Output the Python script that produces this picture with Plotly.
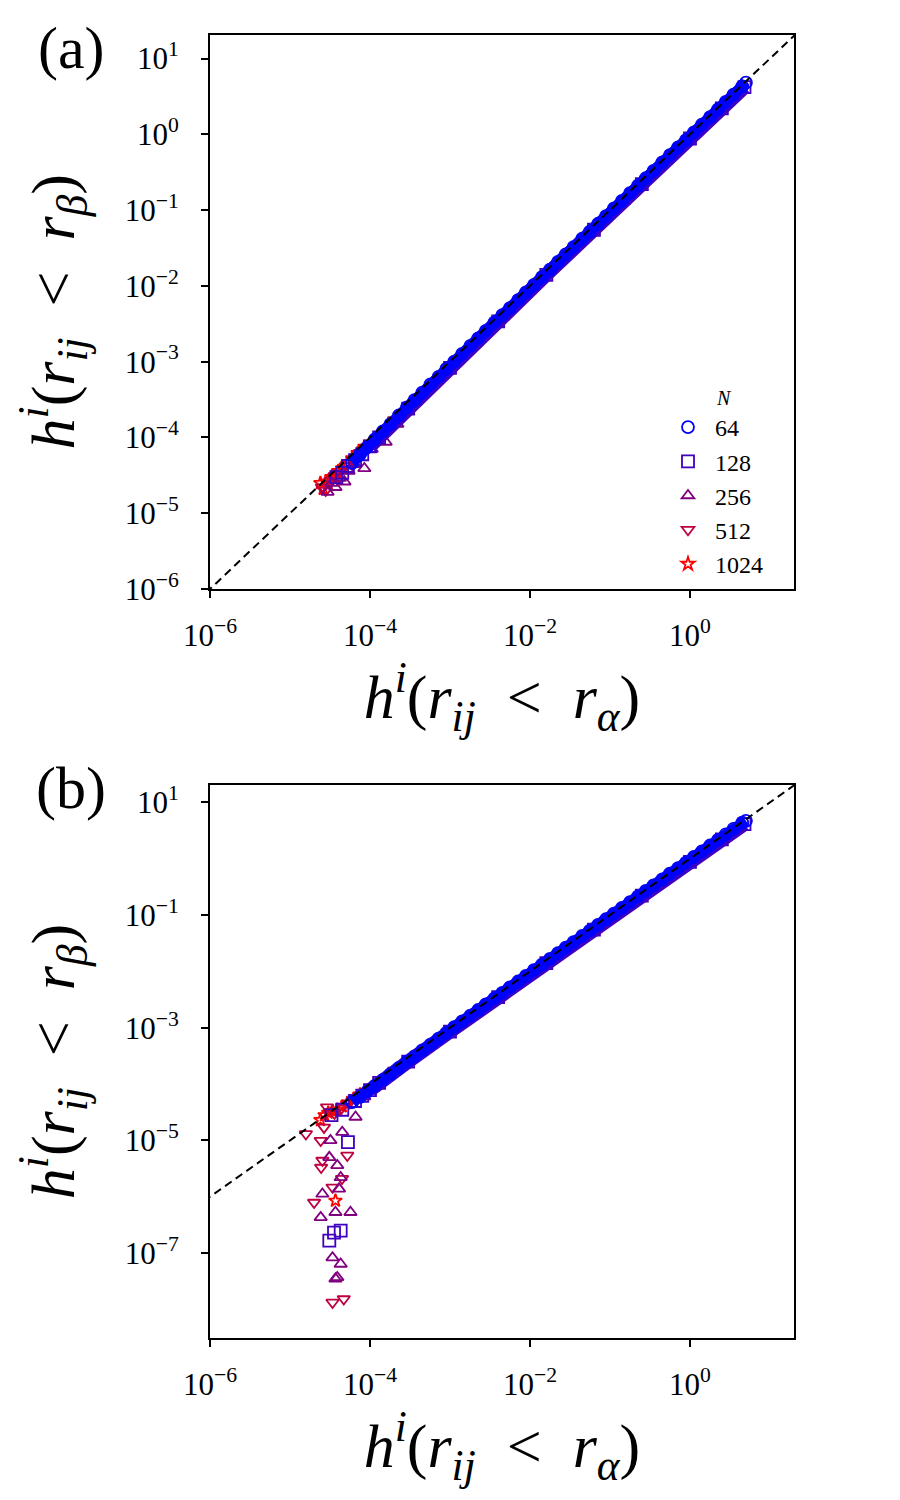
import plotly.graph_objects as go

# ---------------- data ----------------
N_labels = ["64", "128", "256", "512", "1024"]
colors = ["#0000FF", "#4000BF", "#800080", "#BF0040", "#FF0000"]
symbols = ["circle-open", "square-open", "triangle-up-open", "triangle-down-open", "star-open"]
marker_sizes = [12, 12, 11, 11, 10]

# dense diagonal band (mostly N = 64, drawn on top)
x_band = [6.0e-5, 7.5e-5, 9.2e-5, 1.15e-4, 1.45e-4, 1.8e-4, 2.3e-4, 2.9e-4, 3.6e-4, 4.5e-4,
          5.7e-4, 7.2e-4, 9.0e-4, 1.13e-3, 1.42e-3, 1.8e-3, 2.25e-3, 2.8e-3, 3.6e-3, 4.5e-3,
          5.6e-3, 7.1e-3, 8.9e-3, 1.12e-2, 1.41e-2, 1.78e-2, 2.24e-2, 2.8e-2, 3.5e-2, 4.5e-2,
          5.6e-2, 7.1e-2, 8.9e-2, 0.112, 0.141, 0.178, 0.224, 0.28, 0.35, 0.45,
          0.56, 0.71, 0.89, 1.12, 1.41, 1.78, 2.24, 2.8, 3.5, 4.5, 5.0]
ya_band = [4.6e-5, 6.0e-5, 7.4e-5, 9.4e-5, 1.2e-4, 1.5e-4, 1.95e-4, 2.5e-4, 3.1e-4, 3.9e-4,
           5.0e-4, 6.3e-4, 8.0e-4, 1.0e-3, 1.27e-3, 1.62e-3, 2.03e-3, 2.55e-3, 3.3e-3, 4.1e-3,
           5.1e-3, 6.5e-3, 8.2e-3, 1.03e-2, 1.3e-2, 1.64e-2, 2.07e-2, 2.6e-2, 3.25e-2, 4.2e-2,
           5.2e-2, 6.6e-2, 8.3e-2, 0.105, 0.132, 0.167, 0.21, 0.263, 0.33, 0.425,
           0.53, 0.67, 0.84, 1.06, 1.34, 1.69, 2.13, 2.67, 3.34, 4.3, 4.8]
yb_band = [4.8e-5, 5.9e-5, 7.3e-5, 9.3e-5, 1.19e-4, 1.5e-4, 1.94e-4, 2.5e-4, 3.1e-4, 3.95e-4,
           5.0e-4, 6.4e-4, 8.1e-4, 1.02e-3, 1.29e-3, 1.64e-3, 2.06e-3, 2.58e-3, 3.3e-3, 4.15e-3,
           5.2e-3, 6.6e-3, 8.3e-3, 1.05e-2, 1.32e-2, 1.67e-2, 2.1e-2, 2.64e-2, 3.3e-2, 4.25e-2,
           5.3e-2, 6.7e-2, 8.4e-2, 0.106, 0.134, 0.169, 0.213, 0.267, 0.335, 0.43,
           0.54, 0.68, 0.85, 1.07, 1.35, 1.71, 2.15, 2.7, 3.38, 4.35, 4.7]

# panel (a): per-N points
xa_128 = [3.8e-5, 4.5e-5, 5.3e-5, 6.5e-5, 8.0e-5, 1.0e-4, 1.3e-4, 3.0e-4, 1.0e-3, 4.0e-3, 1.6e-2, 6.3e-2, 0.25, 1.0, 2.5, 4.8]
ya_128 = [3.0e-5, 3.4e-5, 4.2e-5, 5.0e-5, 6.0e-5, 7.6e-5, 1.0e-4, 2.4e-4, 8.3e-4, 3.4e-3, 1.4e-2, 5.5e-2, 0.22, 0.88, 2.2, 4.2]
xa_256 = [2.95e-5, 3.3e-5, 3.7e-5, 4.2e-5, 4.8e-5, 5.4e-5, 6.5e-5, 8.5e-5, 1.05e-4, 1.57e-4, 2.2e-4, 6.0e-4, 3.0e-3, 2.0e-2, 0.15, 1.2]
ya_256 = [1.9e-5, 2.5e-5, 2.2e-5, 2.9e-5, 2.6e-5, 3.6e-5, 4.4e-5, 3.9e-5, 7.0e-5, 8.7e-5, 1.5e-4, 4.9e-4, 2.6e-3, 1.8e-2, 0.13, 1.05]
xa_512 = [2.5e-5, 2.8e-5, 3.2e-5, 3.6e-5, 4.2e-5, 5.0e-5, 6.0e-5, 7.5e-5, 9.0e-5, 2.0e-4, 1.5e-3, 1.2e-2, 0.1, 0.9]
ya_512 = [2.2e-5, 2.0e-5, 2.7e-5, 3.1e-5, 3.4e-5, 4.2e-5, 5.0e-5, 6.3e-5, 7.4e-5, 1.7e-4, 1.3e-3, 1.05e-2, 0.09, 0.8]
xa_1024 = [2.4e-5, 2.6e-5, 2.8e-5, 3.0e-5, 3.3e-5, 3.6e-5, 4.0e-5, 4.5e-5, 5.2e-5, 6.0e-5, 7.0e-5, 8.5e-5, 3.0e-4, 2.5e-3, 2.0e-2, 0.2]
ya_1024 = [2.5e-5, 2.1e-5, 2.6e-5, 2.4e-5, 3.0e-5, 2.9e-5, 3.6e-5, 3.9e-5, 4.5e-5, 5.3e-5, 6.2e-5, 7.5e-5, 2.6e-4, 2.2e-3, 1.8e-2, 0.18]

# panel (b): per-N points (including the low tail)
xb_128 = [3.3e-5, 5.3e-5, 4.3e-5, 3.55e-5, 3.1e-5, 4.5e-5, 6.5e-5, 8.0e-5, 1.0e-4, 1.3e-4, 3.0e-4, 1.0e-3, 4.0e-3, 1.6e-2, 6.3e-2, 0.25, 1.0, 2.5, 4.8]
yb_128 = [2.8e-5, 9.3e-6, 2.5e-7, 2.3e-7, 1.66e-7, 3.5e-5, 5.0e-5, 6.2e-5, 7.8e-5, 1.05e-4, 2.5e-4, 8.5e-4, 3.5e-3, 1.4e-2, 5.5e-2, 0.22, 0.88, 2.2, 4.1]
xb_256 = [3.2e-5, 4.5e-5, 3.1e-5, 3.9e-5, 4.3e-5, 2.54e-5, 4.1e-5, 3.7e-5, 5.7e-5, 2.42e-5, 3.4e-5, 4.3e-5, 3.9e-5, 3.7e-5, 6.6e-5, 8.5e-5, 1.1e-4, 1.6e-4, 6.0e-4, 3.0e-3, 2.0e-2, 0.15, 1.2]
yb_256 = [1.0e-5, 1.4e-5, 5.0e-6, 3.6e-6, 2.2e-6, 1.12e-6, 1.38e-6, 5.3e-7, 5.3e-7, 4.3e-7, 8.3e-8, 6.4e-8, 3.7e-8, 3.5e-8, 2.6e-5, 6.0e-5, 8.5e-5, 1.3e-4, 5.0e-4, 2.6e-3, 1.8e-2, 0.13, 1.05]
xb_512 = [1.58e-5, 2.42e-5, 2.54e-5, 2.45e-5, 2.0e-5, 3.4e-5, 5.2e-5, 4.47e-5, 3.4e-5, 4.7e-5, 2.66e-5, 2.9e-5, 3.6e-5, 4.4e-5, 5.5e-5, 7.5e-5, 2.0e-4, 1.5e-3, 1.2e-2, 0.1, 0.9]
yb_512 = [1.3e-5, 9.9e-6, 4.4e-6, 3.3e-6, 7.9e-7, 1.47e-6, 5.4e-6, 2.1e-6, 1.33e-8, 1.53e-8, 1.7e-5, 3.9e-5, 3.0e-5, 3.7e-5, 4.6e-5, 6.2e-5, 1.75e-4, 1.35e-3, 1.1e-2, 0.09, 0.8]
xb_1024 = [3.7e-5, 2.4e-5, 2.7e-5, 3.0e-5, 3.4e-5, 3.9e-5, 4.5e-5, 5.2e-5, 6.2e-5, 7.5e-5, 3.0e-4, 2.5e-3, 2.0e-2, 0.2]
yb_1024 = [8.5e-7, 2.3e-5, 2.8e-5, 3.1e-5, 3.3e-5, 3.5e-5, 4.0e-5, 4.6e-5, 5.4e-5, 6.5e-5, 2.6e-4, 2.2e-3, 1.8e-2, 0.18]

diag = [1e-9, 1e2]

x_tickvals = [1e-6, 1e-4, 1e-2, 1e0]
x_ticktext = ["10<sup>−6</sup>", "10<sup>−4</sup>", "10<sup>−2</sup>", "10<sup>0</sup>"]
ya_tickvals = [1e1, 1e0, 1e-1, 1e-2, 1e-3, 1e-4, 1e-5, 1e-6]
ya_ticktext = ["10<sup>1</sup>", "10<sup>0</sup>", "10<sup>−1</sup>", "10<sup>−2</sup>",
               "10<sup>−3</sup>", "10<sup>−4</sup>", "10<sup>−5</sup>", "10<sup>−6</sup>"]
yb_tickvals = [1e1, 1e-1, 1e-3, 1e-5, 1e-7]
yb_ticktext = ["10<sup>1</sup>", "10<sup>−1</sup>", "10<sup>−3</sup>", "10<sup>−5</sup>", "10<sup>−7</sup>"]

# ---------------- figure ----------------
FONT = "Liberation Serif"
fig = go.Figure()

panel_a = {
    "64": (x_band, ya_band), "128": (xa_128, ya_128), "256": (xa_256, ya_256),
    "512": (xa_512, ya_512), "1024": (xa_1024, ya_1024),
}
panel_b = {
    "64": (x_band, yb_band), "128": (xb_128, yb_128), "256": (xb_256, yb_256),
    "512": (xb_512, yb_512), "1024": (xb_1024, yb_1024),
}

order = [4, 3, 2, 1, 0]  # largest N drawn first, N=64 on top
for panel, (xa, ya), show in [(panel_a, ("x", "y"), True), (panel_b, ("x2", "y2"), False)]:
    for k in order:
        lab = N_labels[k]
        xs, ys = panel[lab]
        if lab in ("64", "128"):
            # the dense overlapping markers merge into a solid band
            keep = [i for i, v in enumerate(xs) if lab == "64" or v >= 1.0e-4]
            fig.add_trace(go.Scatter(
                x=[xs[i] for i in keep], y=[ys[i] for i in keep], mode="lines",
                xaxis=xa, yaxis=ya, showlegend=False, legendgroup=lab, hoverinfo="skip",
                line=dict(color=colors[k], width=14 if lab == "128" else 11),
            ))
        fig.add_trace(go.Scatter(
            x=xs, y=ys, mode="markers", name=lab, legendgroup=lab, showlegend=show,
            xaxis=xa, yaxis=ya,
            marker=dict(symbol=symbols[k], size=marker_sizes[k], color=colors[k],
                        line=dict(width=1.8, color=colors[k])),
        ))
    fig.add_trace(go.Scatter(x=diag, y=diag, mode="lines", xaxis=xa, yaxis=ya, showlegend=False,
                             line=dict(color="black", width=2, dash="8px,5px"), hoverinfo="skip"))

title_y = ("<i>h</i><sup><i>i</i></sup>(<i>r</i><sub><i>ij</i></sub>\u2002&lt;\u2002"
           "<i>r</i><sub><i>β</i></sub>)")
title_x = ("<i>h</i><sup><i>i</i></sup>(<i>r</i><sub><i>ij</i></sub>\u2002&lt;\u2002"
           "<i>r</i><sub><i>α</i></sub>)")
TITLE_FONT = dict(family=FONT, size=62, color="black")

axis_common = dict(type="log", showgrid=False, zeroline=False, showline=True, linecolor="black",
                   linewidth=2, mirror=True, ticks="outside", ticklen=7, tickwidth=2,
                   tickcolor="black", automargin=False,
                   tickfont=dict(family=FONT, size=31, color="black"))

# the page adds an 8px body margin, so pixel positions below are offset by -8
xdom = [202 / 900, 786 / 900]
fig.update_layout(
    width=900, height=1500, margin=dict(l=0, r=0, t=0, b=0, autoexpand=False),
    paper_bgcolor="white", plot_bgcolor="white",
    xaxis=dict(axis_common, domain=xdom, range=[-6, 1.3], tickvals=x_tickvals, ticktext=x_ticktext,
               anchor="y", ticklabelstandoff=11,
               title=dict(text=title_x, font=TITLE_FONT, standoff=20)),
    yaxis=dict(axis_common, domain=[1 - 581 / 1500, 1 - 26.5 / 1500], range=[-6, 1.317],
               tickvals=ya_tickvals, ticktext=ya_ticktext, anchor="x", ticklabelstandoff=16,
               title=dict(text=title_y, font=TITLE_FONT, standoff=30)),
    xaxis2=dict(axis_common, domain=xdom, range=[-6, 1.3], tickvals=x_tickvals, ticktext=x_ticktext,
                anchor="y2", ticklabelstandoff=11,
                title=dict(text=title_x, font=TITLE_FONT, standoff=20)),
    yaxis2=dict(axis_common, domain=[1 - 1330 / 1500, 1 - 777 / 1500], range=[-8.507, 1.307],
                tickvals=yb_tickvals, ticktext=yb_ticktext, anchor="x2", ticklabelstandoff=16,
                title=dict(text=title_y, font=TITLE_FONT, standoff=30)),
    legend=dict(x=653 / 900, y=1 - 371 / 1500, xanchor="left", yanchor="top",
                bgcolor="rgba(0,0,0,0)", borderwidth=0, traceorder="reversed",
                itemwidth=44,
                font=dict(family=FONT, size=24, color="black"), tracegroupgap=0,
                title=dict(text="\u00a0\u00a0\u00a0\u00a0<i>N</i>", side="top center",
                           font=dict(family=FONT, size=20, color="black"))),
    showlegend=True,
    annotations=[
        dict(text="(a)", x=63 / 900, y=1 - 40 / 1500, xref="paper", yref="paper",
             xanchor="center", yanchor="middle",
             showarrow=False, font=dict(family=FONT, size=60, color="black")),
        dict(text="(b)", x=63 / 900, y=1 - 780 / 1500, xref="paper", yref="paper",
             xanchor="center", yanchor="middle",
             showarrow=False, font=dict(family=FONT, size=60, color="black")),
    ],
)

fig.write_html("out.html")
